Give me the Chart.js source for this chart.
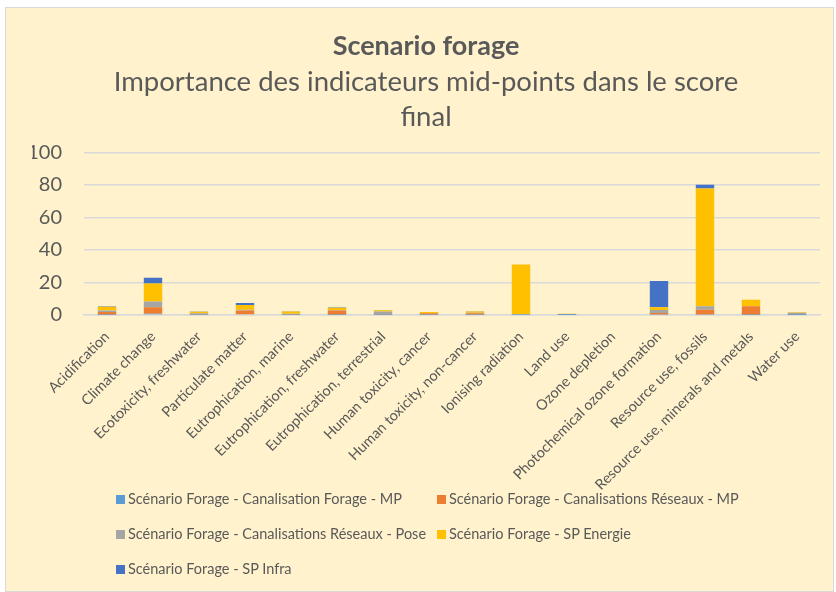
<!DOCTYPE html>
<html>
<head>
<meta charset="utf-8">
<script src="https://cdn.jsdelivr.net/npm/chart.js@4/dist/chart.umd.min.js"></script>
<style>
  html, body { margin: 0; padding: 0; background: #fff; }
  #box {
    position: absolute; left: 5px; top: 7px; width: 829px; height: 585px;
    background: #FFF2CC; border: 1px solid #D9D9D9; box-sizing: border-box;
  }
  #box canvas { position: absolute; left: 0; top: 0; }
  #legend { position: absolute; left: 0; top: 0; font-family: Lato, sans-serif; font-size: 14.5px; color: #595959; }
  .item { position: absolute; white-space: nowrap; line-height: 16px; }
  .item i { display: inline-block; width: 9px; height: 9px; margin-right: 3px; vertical-align: 0px; }
</style>
</head>
<body>
<div id="box">
  <canvas id="chart" width="827" height="583"></canvas>
  <div id="legend"></div>
</div>
<script>
// ── DATA ──
const categories = [
  'Acidification', 'Climate change', 'Ecotoxicity, freshwater', 'Particulate matter',
  'Eutrophication, marine', 'Eutrophication, freshwater', 'Eutrophication, terrestrial',
  'Human toxicity, cancer', 'Human toxicity, non-cancer', 'Ionising radiation', 'Land use',
  'Ozone depletion', 'Photochemical ozone formation', 'Resource use, fossils',
  'Resource use, minerals and metals', 'Water use'
];
const canalForageMP    = [0.2, 0.8, 0.1, 0.4, 0.1, 0.2, 0.1, 0.1, 0.1, 0.1, 0.05, 0, 0.3, 0.3, 0.2, 0.05];
const canalReseauxMP   = [1.6, 4.0, 0.4, 2.4, 0.4, 2.5, 0.4, 0.9, 1.0, 0.1, 0.1, 0, 1.0, 3.0, 5.2, 0.2];
const canalReseauxPose = [1.0, 3.5, 0.5, 0.4, 0.3, 0.3, 1.6, 0.3, 0.3, 0.2, 0.5, 0, 1.7, 2.1, 0.2, 1.0];
const spEnergie        = [2.3, 11.0, 1.0, 2.9, 1.4, 1.5, 0.8, 0.5, 0.8, 30.6, 0.05, 0, 1.7, 72.3, 3.7, 0.3];
const spInfra          = [0.2, 3.6, 0.1, 1.2, 0.1, 0.2, 0.1, 0.1, 0.1, 0.1, 0.05, 0, 16.2, 2.3, 0.1, 0.1];
const yTicks = [0, 20, 40, 60, 80, 100];

const seriesNames = [
  'Scénario Forage - Canalisation Forage - MP',
  'Scénario Forage - Canalisations Réseaux - MP',
  'Scénario Forage - Canalisations Réseaux - Pose',
  'Scénario Forage - SP Energie',
  'Scénario Forage - SP Infra'
];
const seriesData = [canalForageMP, canalReseauxMP, canalReseauxPose, spEnergie, spInfra];
const colors = ['#5B9BD5', '#ED7D31', '#A5A5A5', '#FFC000', '#4472C4'];

const TXT = '#595959';
const FONT = 'Lato, sans-serif';

// ── CHART ──
const chart = new Chart(document.getElementById('chart'), {
  type: 'bar',
  data: {
    labels: categories,
    datasets: seriesData.map((d, i) => ({
      label: seriesNames[i],
      data: d,
      backgroundColor: colors[i],
      borderWidth: 0,
      categoryPercentage: 1,
      barPercentage: 0.4
    }))
  },
  options: {
    responsive: false,
    animation: false,
    // left padding nudges the centred title right, y axis width compensates
    layout: { padding: { left: 26, right: 13, top: 0, bottom: 0 } },
    plugins: {
      legend: { display: false },
      tooltip: { enabled: false },
      title: {
        display: true,
        text: 'Scenario forage',
        color: TXT,
        font: { family: FONT, size: 27, weight: 'bold', lineHeight: 1.2 },
        padding: { top: 22, bottom: 2 }
      },
      subtitle: {
        display: true,
        text: ['Importance des indicateurs mid-points dans le score', 'final'],
        color: TXT,
        font: { family: FONT, size: 27.5, lineHeight: 1.27 },
        padding: { top: 0, bottom: 18 }
      }
    },
    scales: {
      x: {
        stacked: true,
        grid: { display: false, drawTicks: false },
        border: { color: '#D9D9D9', width: 1.5 },
        ticks: {
          color: TXT, font: { family: FONT, size: 14.5 },
          minRotation: 45, maxRotation: 45, autoSkip: false, padding: 13
        },
        afterFit: s => { s.height = 583 - 307; }
      },
      y: {
        stacked: true,
        min: 0, max: 100,
        afterBuildTicks: s => { s.ticks = yTicks.map(v => ({ value: v })); },
        grid: { color: '#D9D9D9', lineWidth: 1.5, drawTicks: false },
        border: { display: false },
        ticks: { color: TXT, font: { family: FONT, size: 20 }, padding: 22 },
        afterFit: s => { s.width = 52; }
      }
    }
  }
});

// ── LEGEND (two columns, like the original) ──
const legendPos = [[110, 483], [431, 483], [110, 518], [431, 518], [110, 553]];
const legend = document.getElementById('legend');
chart.data.datasets.forEach((ds, i) => {
  const el = document.createElement('div');
  el.className = 'item';
  el.style.left = legendPos[i][0] + 'px';
  el.style.top = legendPos[i][1] + 'px';
  el.innerHTML = `<i style="background:${ds.backgroundColor}"></i>${ds.label}`;
  legend.appendChild(el);
});
</script>
</body>
</html>
